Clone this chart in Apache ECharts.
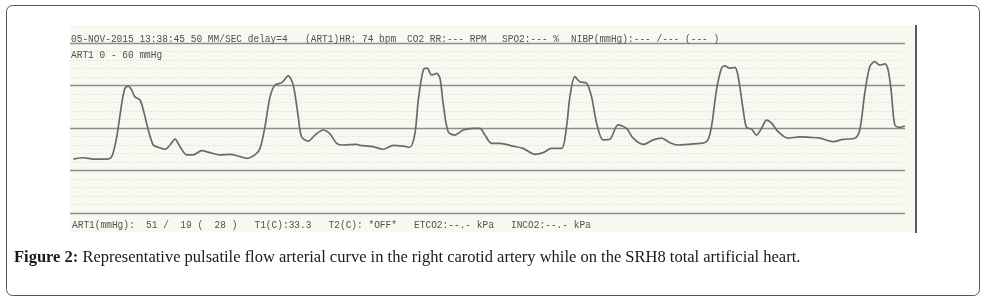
<!DOCTYPE html>
<html>
<head>
<meta charset="utf-8">
<script src="https://cdn.jsdelivr.net/npm/echarts@6/dist/echarts.min.js"></script>
<style>
html,body{margin:0;padding:0;background:#fff;}
#chart{width:992px;height:304px;}
</style>
</head>
<body>
<div id="chart"></div>
<script>
// time (s) of each traced sample of the arterial pressure curve
var timeSec = [0.018,0.072,0.126,0.198,0.225,0.252,0.279,0.296,0.314,0.332,0.350,0.377,0.395,0.422,0.449,0.476,0.512,0.539,0.566,0.593,0.629,0.664,0.710,0.754,0.808,0.862,0.916,0.952,0.997,1.024,1.051,1.078,1.105,1.141,1.176,1.203,1.230,1.248,1.284,1.320,1.365,1.401,1.437,1.473,1.545,1.562,1.634,1.688,1.742,1.796,1.832,1.859,1.877,1.904,1.925,1.949,1.976,1.994,2.011,2.038,2.074,2.119,2.173,2.209,2.236,2.272,2.317,2.388,2.442,2.505,2.550,2.595,2.649,2.676,2.694,2.721,2.748,2.784,2.811,2.838,2.873,2.909,2.954,2.999,3.035,3.089,3.143,3.188,3.233,3.277,3.358,3.431,3.457,3.484,3.511,3.529,3.556,3.583,3.601,3.628,3.646,3.673,3.700,3.727,3.754,3.781,3.816,3.870,3.933,3.987,4.041,4.113,4.166,4.229,4.256,4.283,4.310,4.337,4.364,4.391,4.409,4.427,4.445,4.472,4.499];
// arterial pressure (mmHg) at each sample
var pressure = [19.0,19.5,19.0,19.0,19.9,26.9,38.7,44.0,44.8,43.4,41.0,39.9,36.4,29.3,24.0,23.2,22.5,24.0,26.1,23.4,20.5,20.5,22.0,21.3,20.5,20.7,19.9,19.3,20.5,22.8,30.5,41.0,45.2,46.0,48.4,45.2,34.0,26.9,25.4,27.5,29.3,27.9,24.6,24.0,24.2,23.9,23.4,22.5,23.9,23.6,23.2,28.1,39.9,50.5,51.1,48.7,49.3,47.5,38.7,28.7,27.5,29.3,29.9,29.9,27.5,24.6,24.6,23.6,22.8,20.7,21.3,22.8,22.8,30.5,41.0,48.1,46.3,45.8,41.0,31.7,25.8,26.0,31.1,29.9,26.4,24.2,25.8,26.4,24.8,24.0,24.4,25.2,30.5,43.4,51.1,51.9,51.1,51.4,48.1,36.4,30.2,29.6,27.5,29.9,32.8,31.7,28.7,26.4,26.9,26.7,26.4,25.2,26.0,26.4,29.3,42.2,51.6,53.4,52.2,52.6,50.5,42.2,31.1,30.2,30.7];
// monitor header / footer texts
var headerTexts = ["05-NOV-2015 13:38:45 50 MM/SEC delay=4", "(ART1)HR: 74 bpm", "CO2 RR:--- RPM", "SPO2:--- %", "NIBP(mmHg):--- /--- (--- )"];
var scaleText = "ART1 0 - 60 mmHg";
var footerText = "ART1(mmHg):  51 /  19 (  28 )   T1(C):33.3   T2(C): *OFF*   ETCO2:--.- kPa   INCO2:--.- kPa";
var captionBold = "Figure 2:";
var captionText = " Representative pulsatile flow arterial curve in the right carotid artery while on the SRH8 total artificial heart.";

var headerX = [71, 305, 407, 502, 571];

var chart = echarts.init(document.getElementById('chart'), null, {renderer: 'canvas'});
var mono = {fontFamily: 'Liberation Mono', fontSize: 9.5, fill: '#505050'};
var graphics = [
  {type: 'rect', z: -20, shape: {x: 6.5, y: 5.5, width: 973, height: 290, r: 6}, style: {fill: '#fff', stroke: '#555', lineWidth: 1}},
  {type: 'rect', z: -10, shape: {x: 70, y: 25, width: 845, height: 207}, style: {fill: '#f8f8f0'}},
  {type: 'line', z: 10, shape: {x1: 916, y1: 25, x2: 916, y2: 233}, style: {stroke: '#222', lineWidth: 1.5}}
];
headerTexts.forEach(function (t, i) {
  graphics.push({type: 'text', z: 10, x: headerX[i], y: 39, scaleY: 1.12, style: Object.assign({text: t, verticalAlign: 'middle'}, mono)});
});
graphics.push({type: 'text', z: 10, x: 71, y: 55.5, scaleY: 1.12, style: Object.assign({text: scaleText, verticalAlign: 'middle'}, mono)});
graphics.push({type: 'text', z: 10, x: 72, y: 225.5, scaleY: 1.12, style: Object.assign({text: footerText, verticalAlign: 'middle'}, mono)});
graphics.push({type: 'text', z: 10, x: 14, y: 258, style: {
  text: '{b|' + captionBold + '}{r|' + captionText + '}', verticalAlign: 'middle',
  rich: {
    b: {fontFamily: 'Liberation Serif', fontSize: 16.5, fontWeight: 'bold', fill: '#1a1a1a'},
    r: {fontFamily: 'Liberation Serif', fontSize: 16.5, fill: '#1a1a1a'}
  }
}});

var series = [{
  type: 'line',
  data: timeSec.map(function (t, i) { return [t, pressure[i]]; }),
  smooth: 0.3,
  symbol: 'none',
  lineStyle: {color: '#6a6a6a', width: 1.7},
  z: 5
}];

chart.setOption({
  animation: false,
  backgroundColor: '#fff',
  grid: {left: 70, right: 87, top: 43, bottom: 91},
  xAxis: {type: 'value', min: 0, max: 4.5, show: true,
    axisLine: {show: false}, axisTick: {show: false}, axisLabel: {show: false}, splitLine: {show: false}},
  yAxis: {type: 'value', min: 0, max: 60, interval: 15,
    axisLine: {show: false}, axisTick: {show: false}, axisLabel: {show: false},
    splitLine: {show: true, lineStyle: {color: '#8e8e8e', width: 1.3}},
    minorTick: {show: false, splitNumber: 5},
    minorSplitLine: {show: true, lineStyle: {color: '#d8d8d0', width: 1, type: [1, 2]}}
  },
  graphic: graphics,
  series: series
});
</script>
</body>
</html>
